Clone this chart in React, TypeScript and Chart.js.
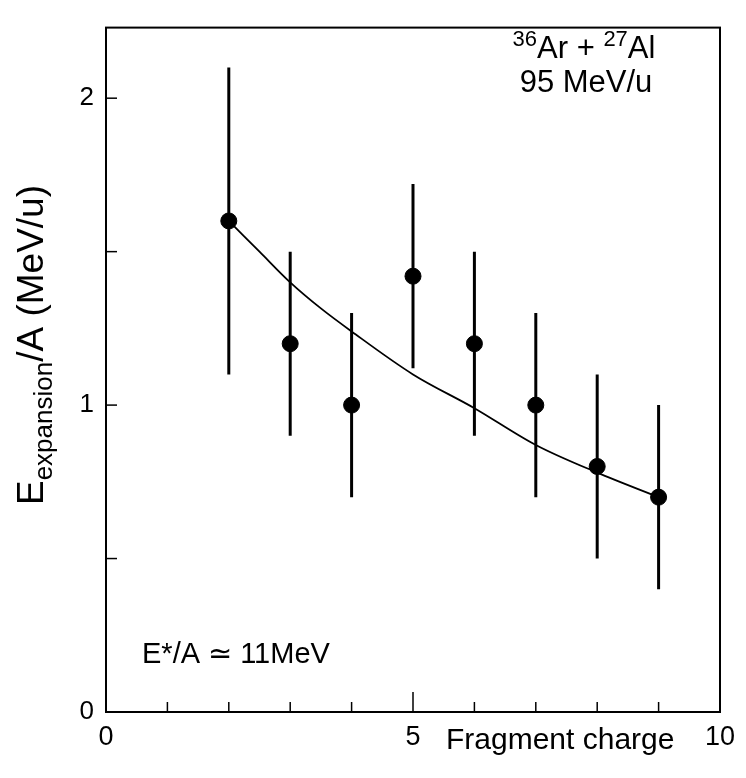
import React, { useEffect, useRef } from "react";
import { Chart, registerables } from "chart.js";

Chart.register(...registerables);

// ---- data ----
const chargeValues = [2, 3, 4, 5, 6, 7, 8, 9];
const expansionValues = [1.6, 1.2, 1.0, 1.42, 1.2, 1.0, 0.8, 0.7];
const errorLow = [1.1, 0.9, 0.7, 1.12, 0.9, 0.7, 0.5, 0.4];
const errorHigh = [2.1, 1.5, 1.3, 1.72, 1.5, 1.3, 1.1, 1.0];

const fitCharge = [2, 2.5, 3, 3.5, 4, 5, 6, 7, 8, 9];
const fitExpansion = [1.6, 1.5, 1.4, 1.315, 1.24, 1.1, 0.99, 0.87, 0.78, 0.7];

const xTickLabels = ["0", "5", "10"];
const yTickLabels = ["0", "1", "2"];
const xMinorTicks = [1, 2, 3, 4, 5, 6, 7, 8, 9];
const yMinorTicks = [0.5, 1, 1.5, 2];

const FAMILY = '"Liberation Sans", Arial, Helvetica, sans-serif';

const decorPlugin = {
  id: "decor",
  afterDraw(chart: any) {
    const { ctx, chartArea, scales } = chart;
    const { left, right, top, bottom } = chartArea;
    const xs = scales.x;
    const ys = scales.y;
    ctx.save();
    ctx.strokeStyle = "#000";
    ctx.fillStyle = "#000";
    ctx.lineWidth = 2;
    ctx.strokeRect(left, top, right - left, bottom - top);

    ctx.lineWidth = 1.5;
    for (const v of xMinorTicks) {
      const px = xs.getPixelForValue(v);
      const len = v % 5 === 0 ? 20 : 10;
      ctx.beginPath();
      ctx.moveTo(px, bottom);
      ctx.lineTo(px, bottom - len);
      ctx.stroke();
    }
    for (const v of yMinorTicks) {
      const py = ys.getPixelForValue(v);
      ctx.beginPath();
      ctx.moveTo(left, py);
      ctx.lineTo(left + 11, py);
      ctx.stroke();
    }

    // x-axis title
    ctx.font = `30px ${FAMILY}`;
    ctx.textBaseline = "alphabetic";
    ctx.textAlign = "left";
    ctx.fillText("Fragment charge", 446, 749);

    // y-axis title (rotated, with subscript)
    const mainFont = `37px ${FAMILY}`;
    const subFont = `26px ${FAMILY}`;
    ctx.font = mainFont;
    const wE = ctx.measureText("E").width;
    const rest = "/A (MeV/u)";
    const wRest = ctx.measureText(rest).width;
    ctx.font = subFont;
    const sub = "expansion";
    const wSub = ctx.measureText(sub).width;
    const total = wE + wSub + wRest;
    ctx.save();
    ctx.translate(43, 345 + total / 2);
    ctx.rotate(-Math.PI / 2);
    ctx.font = mainFont;
    ctx.fillText("E", 0, 0);
    ctx.font = subFont;
    ctx.fillText(sub, wE, 9);
    ctx.font = mainFont;
    ctx.fillText(rest, wE + wSub, 0);
    ctx.restore();

    // top-right annotation
    const aFont = `31px ${FAMILY}`;
    const sFont = `22px ${FAMILY}`;
    const parts: [string, boolean][] = [
      ["36", true],
      ["Ar + ", false],
      ["27", true],
      ["Al", false],
    ];
    let w = 0;
    const widths = parts.map(([t, s]) => {
      ctx.font = s ? sFont : aFont;
      const m = ctx.measureText(t).width;
      w += m;
      return m;
    });
    let cx = 584 - w / 2;
    parts.forEach(([t, s], i) => {
      ctx.font = s ? sFont : aFont;
      ctx.fillText(t, cx, s ? 46 : 58);
      cx += widths[i];
    });
    ctx.font = aFont;
    ctx.textAlign = "center";
    ctx.fillText("95 MeV/u", 586, 92);

    // bottom-left annotation
    ctx.textAlign = "left";
    ctx.font = `29px ${FAMILY}`;
    ctx.fillText("E*/A \u2243 11MeV", 142, 663);

    ctx.restore();
  },
};

export default function App() {
  const ref = useRef<HTMLCanvasElement | null>(null);

  useEffect(() => {
    if (!ref.current) return;

    const errData: any[] = [];
    chargeValues.forEach((x, i) => {
      errData.push({ x, y: errorLow[i] });
      errData.push({ x, y: errorHigh[i] });
      errData.push({ x: x + 0.5, y: null });
    });

    const chart = new Chart(ref.current, {
      type: "scatter",
      data: {
        datasets: [
          {
            type: "line",
            data: fitCharge.map((x, i) => ({ x, y: fitExpansion[i] })),
            borderColor: "#000",
            borderWidth: 1.8,
            pointRadius: 0,
            cubicInterpolationMode: "monotone",
            fill: false,
          } as any,
          {
            type: "line",
            data: errData,
            borderColor: "#000",
            borderWidth: 3,
            pointRadius: 0,
            spanGaps: false,
            fill: false,
          } as any,
          {
            type: "scatter",
            data: chargeValues.map((x, i) => ({ x, y: expansionValues[i] })),
            backgroundColor: "#000",
            borderColor: "#000",
            pointRadius: 8,
          } as any,
        ],
      },
      options: {
        animation: false,
        responsive: false,
        devicePixelRatio: 1,
        layout: { padding: { top: 18, right: 26, left: 0, bottom: 0 } },
        plugins: {
          legend: { display: false },
          tooltip: { enabled: false },
        },
        scales: {
          x: {
            type: "linear",
            min: 0,
            max: 10,
            grid: { display: false, drawTicks: false },
            border: { display: false },
            ticks: {
              stepSize: 5,
              includeBounds: false,
              color: "#000",
              font: { size: 27, family: FAMILY },
              padding: 9,
              maxRotation: 0,
              callback: (v: any) => xTickLabels[Math.round(Number(v) / 5)] ?? "",
            },
            afterFit: (s: any) => {
              s.height = 66;
            },
          },
          y: {
            type: "linear",
            min: 0,
            max: 2.23,
            grid: { display: false, drawTicks: false },
            border: { display: false },
            ticks: {
              stepSize: 1,
              includeBounds: false,
              color: "#000",
              font: { size: 26, family: FAMILY },
              padding: 12,
              callback: (v: any) => yTickLabels[Math.round(Number(v))] ?? "",
            },
            afterFit: (s: any) => {
              s.width = 106;
            },
          },
        },
      },
      plugins: [decorPlugin],
    });

    return () => chart.destroy();
  }, []);

  return (
    <div style={{ position: "absolute", left: 0, top: 0, width: 746, height: 778, background: "#fff" }}>
      <canvas ref={ref} width={746} height={778} style={{ width: 746, height: 778 }} />
    </div>
  );
}
